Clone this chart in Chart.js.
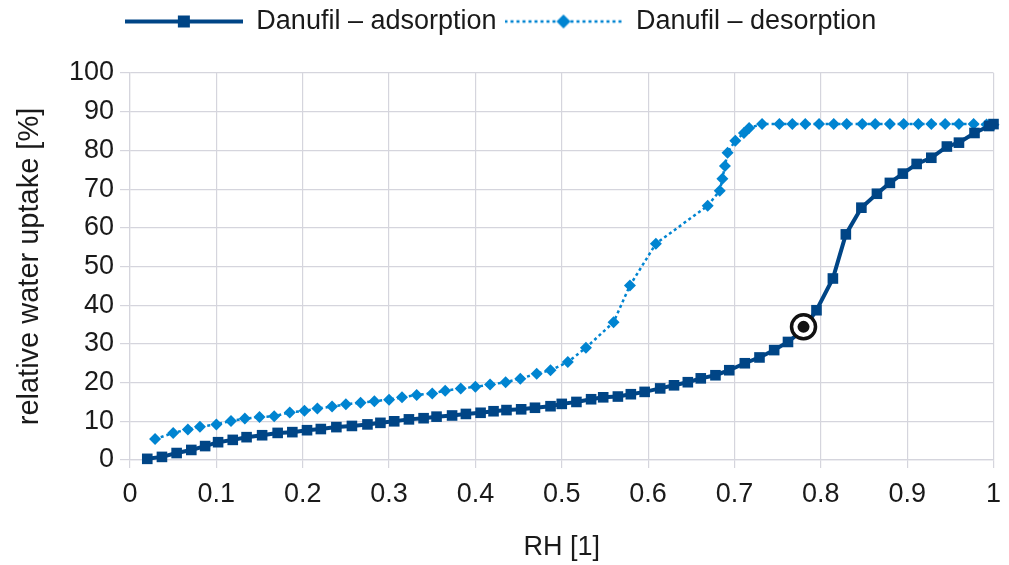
<!DOCTYPE html>
<html>
<head>
<meta charset="utf-8">
<title>Danufil sorption</title>
<script src="https://cdn.jsdelivr.net/npm/chart.js@4.4.1/dist/chart.umd.min.js"></script>
<style>
  html, body { margin: 0; padding: 0; background: #fff; }
  #wrap { width: 1009px; height: 565px; position: relative; }
</style>
</head>
<body>
<div id="wrap"><canvas id="chart"></canvas></div>
<script>
// ---- data ----
const adsX = [0.020, 0.037, 0.054, 0.071, 0.087, 0.102, 0.119, 0.135, 0.153, 0.171,
  0.188, 0.205, 0.221, 0.239, 0.257, 0.275, 0.290, 0.306, 0.323, 0.340,
  0.355, 0.373, 0.389, 0.406, 0.421, 0.436, 0.453, 0.469, 0.487, 0.500,
  0.517, 0.534, 0.548, 0.565, 0.580, 0.596, 0.614, 0.630, 0.646, 0.661,
  0.678, 0.694, 0.712, 0.729, 0.746, 0.762, 0.779, 0.795, 0.814, 0.829,
  0.847, 0.865, 0.880, 0.895, 0.911, 0.928, 0.946, 0.960, 0.978, 0.995, 1.000];
const adsY = [0.3, 0.8, 1.8, 2.6, 3.6, 4.6, 5.2, 5.9, 6.4, 7.0,
  7.2, 7.7, 8.0, 8.5, 8.8, 9.2, 9.6, 10.0, 10.5, 10.8,
  11.2, 11.5, 11.9, 12.2, 12.6, 12.9, 13.1, 13.5, 13.9, 14.5,
  15.0, 15.7, 16.2, 16.4, 17.0, 17.6, 18.5, 19.3, 20.1, 21.1,
  21.9, 23.2, 25.0, 26.5, 28.4, 30.5, 33.5, 38.7, 46.9, 58.3,
  65.2, 68.8, 71.6, 74.0, 76.5, 78.1, 81.0, 82.0, 84.5, 86.3, 86.8];

const desX = [0.029, 0.050, 0.067, 0.081, 0.100, 0.117, 0.133, 0.150, 0.167, 0.185,
  0.202, 0.217, 0.234, 0.250, 0.267, 0.283, 0.300, 0.315, 0.332, 0.350,
  0.365, 0.383, 0.400, 0.417, 0.435, 0.452, 0.471, 0.487, 0.507, 0.528,
  0.560, 0.579, 0.609, 0.669, 0.683, 0.686, 0.689, 0.692, 0.701, 0.711,
  0.717, 0.732, 0.752, 0.767, 0.782, 0.798, 0.815, 0.830, 0.848, 0.863,
  0.880, 0.896, 0.913, 0.928, 0.944, 0.960, 0.977, 0.992, 1.000];
const desY = [5.4, 7.0, 7.9, 8.6, 9.2, 10.1, 10.7, 11.1, 11.3, 12.3,
  12.7, 13.3, 13.8, 14.4, 14.8, 15.2, 15.6, 16.2, 16.8, 17.2,
  17.9, 18.5, 18.9, 19.5, 20.1, 21.0, 22.3, 23.2, 25.3, 29.0,
  35.6, 45.1, 55.9, 65.7, 69.6, 72.7, 76.0, 79.4, 82.5, 84.5,
  85.8, 86.8, 86.8, 86.8, 86.8, 86.8, 86.8, 86.8, 86.8, 86.8,
  86.8, 86.8, 86.8, 86.8, 86.8, 86.8, 86.8, 86.7, 86.6];

// circled marker on the adsorption curve
const markX = [0.78];
const markY = [34.4];

const seriesNames = ['Danufil \u2013 adsorption', 'Danufil \u2013 desorption'];
const xTitle = 'RH [1]';
const yTitle = 'relative water uptake [%]';

// ---- styles ----
const ADS_COLOR = '#004586';
const DES_COLOR = '#0084d1';
const GRID = '#d5d5dd';
const TEXT = '#1a1a1a';
const FONT = "'Liberation Sans', Arial, sans-serif";
const SWATCH_W = 118;

const toPoints = (xs, ys) => xs.map((x, i) => ({ x, y: ys[i] }));

// legend swatches: line with marker in the middle
function makeSwatch(color, dashed, shape) {
  const c = document.createElement('canvas');
  c.width = SWATCH_W;
  c.height = 24;
  const g = c.getContext('2d');
  const mid = SWATCH_W / 2;
  g.strokeStyle = color;
  g.lineWidth = dashed ? 2.5 : 4;
  if (dashed) g.setLineDash([3, 3]);
  g.beginPath();
  g.moveTo(0, 12);
  g.lineTo(SWATCH_W, 12);
  g.stroke();
  g.setLineDash([]);
  g.fillStyle = color;
  g.beginPath();
  if (shape === 'rect') {
    g.rect(mid - 6, 12 - 6, 12, 12);
  } else {
    g.moveTo(mid, 12 - 7);
    g.lineTo(mid + 7, 12);
    g.lineTo(mid, 12 + 7);
    g.lineTo(mid - 7, 12);
    g.closePath();
  }
  g.fill();
  return c;
}
const swatches = [
  makeSwatch(ADS_COLOR, false, 'rect'),
  makeSwatch(DES_COLOR, true, 'diamond')
];

// push the plot area down below the legend
const legendGap = {
  id: 'legendGap',
  beforeInit(chart) {
    const fit = chart.legend.fit;
    chart.legend.fit = function () {
      fit.call(this);
      this.height += 28;
    };
  }
};

const ctx = document.getElementById('chart').getContext('2d');
new Chart(ctx, {
  type: 'line',
  plugins: [legendGap],
  data: {
    datasets: [
      {
        label: seriesNames[0],
        data: toPoints(adsX, adsY),
        borderColor: ADS_COLOR,
        backgroundColor: ADS_COLOR,
        borderWidth: 4,
        pointStyle: 'rect',
        pointRadius: 7.5,
        pointBorderWidth: 0,
        tension: 0,
        clip: false,
        order: 2
      },
      {
        label: seriesNames[1],
        data: toPoints(desX, desY),
        borderColor: DES_COLOR,
        backgroundColor: DES_COLOR,
        borderWidth: 2.5,
        borderDash: [3, 3],
        pointStyle: 'rectRot',
        pointRadius: 6,
        pointBorderWidth: 0,
        tension: 0,
        clip: false,
        order: 3
      },
      {
        label: 'ring',
        data: toPoints(markX, markY),
        showLine: false,
        pointStyle: 'circle',
        pointRadius: 12,
        pointBorderWidth: 3.5,
        borderColor: '#111',
        backgroundColor: '#fff',
        clip: false,
        order: 1
      },
      {
        label: 'dot',
        data: toPoints(markX, markY),
        showLine: false,
        pointStyle: 'circle',
        pointRadius: 6,
        pointBorderWidth: 0,
        backgroundColor: '#111',
        borderColor: '#111',
        clip: false,
        order: 0
      }
    ]
  },
  options: {
    responsive: true,
    maintainAspectRatio: false,
    animation: false,
    layout: { padding: { top: 0, right: 8, left: 0, bottom: 0 } },
    plugins: {
      tooltip: { enabled: false },
      legend: {
        position: 'top',
        labels: {
          usePointStyle: true,
          pointStyleWidth: SWATCH_W,
          padding: 8,
          color: TEXT,
          font: { family: FONT, size: 27 },
          filter: (item) => item.datasetIndex < 2,
          generateLabels: (chart) => {
            const items = Chart.defaults.plugins.legend.labels.generateLabels(chart);
            items.forEach(it => {
              if (it.datasetIndex < 2) it.pointStyle = swatches[it.datasetIndex];
            });
            return items;
          }
        }
      }
    },
    scales: {
      x: {
        type: 'linear',
        min: 0,
        max: 1,
        afterFit: (scale) => {
          scale.height = 105;
          scale.paddingRight = 0;
        },
        ticks: {
          stepSize: 0.1,
          color: TEXT,
          padding: 10,
          maxRotation: 0,
          font: { family: FONT, size: 27 },
          callback: (v) => String(+v.toFixed(1))
        },
        grid: { color: GRID, tickLength: 8, lineWidth: 1.2 },
        border: { color: GRID, width: 1.2 },
        title: {
          display: true,
          text: xTitle,
          color: TEXT,
          font: { family: FONT, size: 27 },
          padding: { top: 10, bottom: 1 }
        }
      },
      y: {
        min: 0,
        max: 100,
        afterFit: (scale) => { scale.width = 130; },
        ticks: {
          stepSize: 10,
          color: TEXT,
          padding: 6,
          font: { family: FONT, size: 27 }
        },
        grid: { color: GRID, tickLength: 10, lineWidth: 1.2 },
        border: { color: GRID, width: 1.2 },
        title: {
          display: true,
          text: yTitle,
          color: TEXT,
          font: { family: FONT, size: 29 },
          padding: { top: 13, bottom: 2 }
        }
      }
    }
  }
});
</script>
</body>
</html>
